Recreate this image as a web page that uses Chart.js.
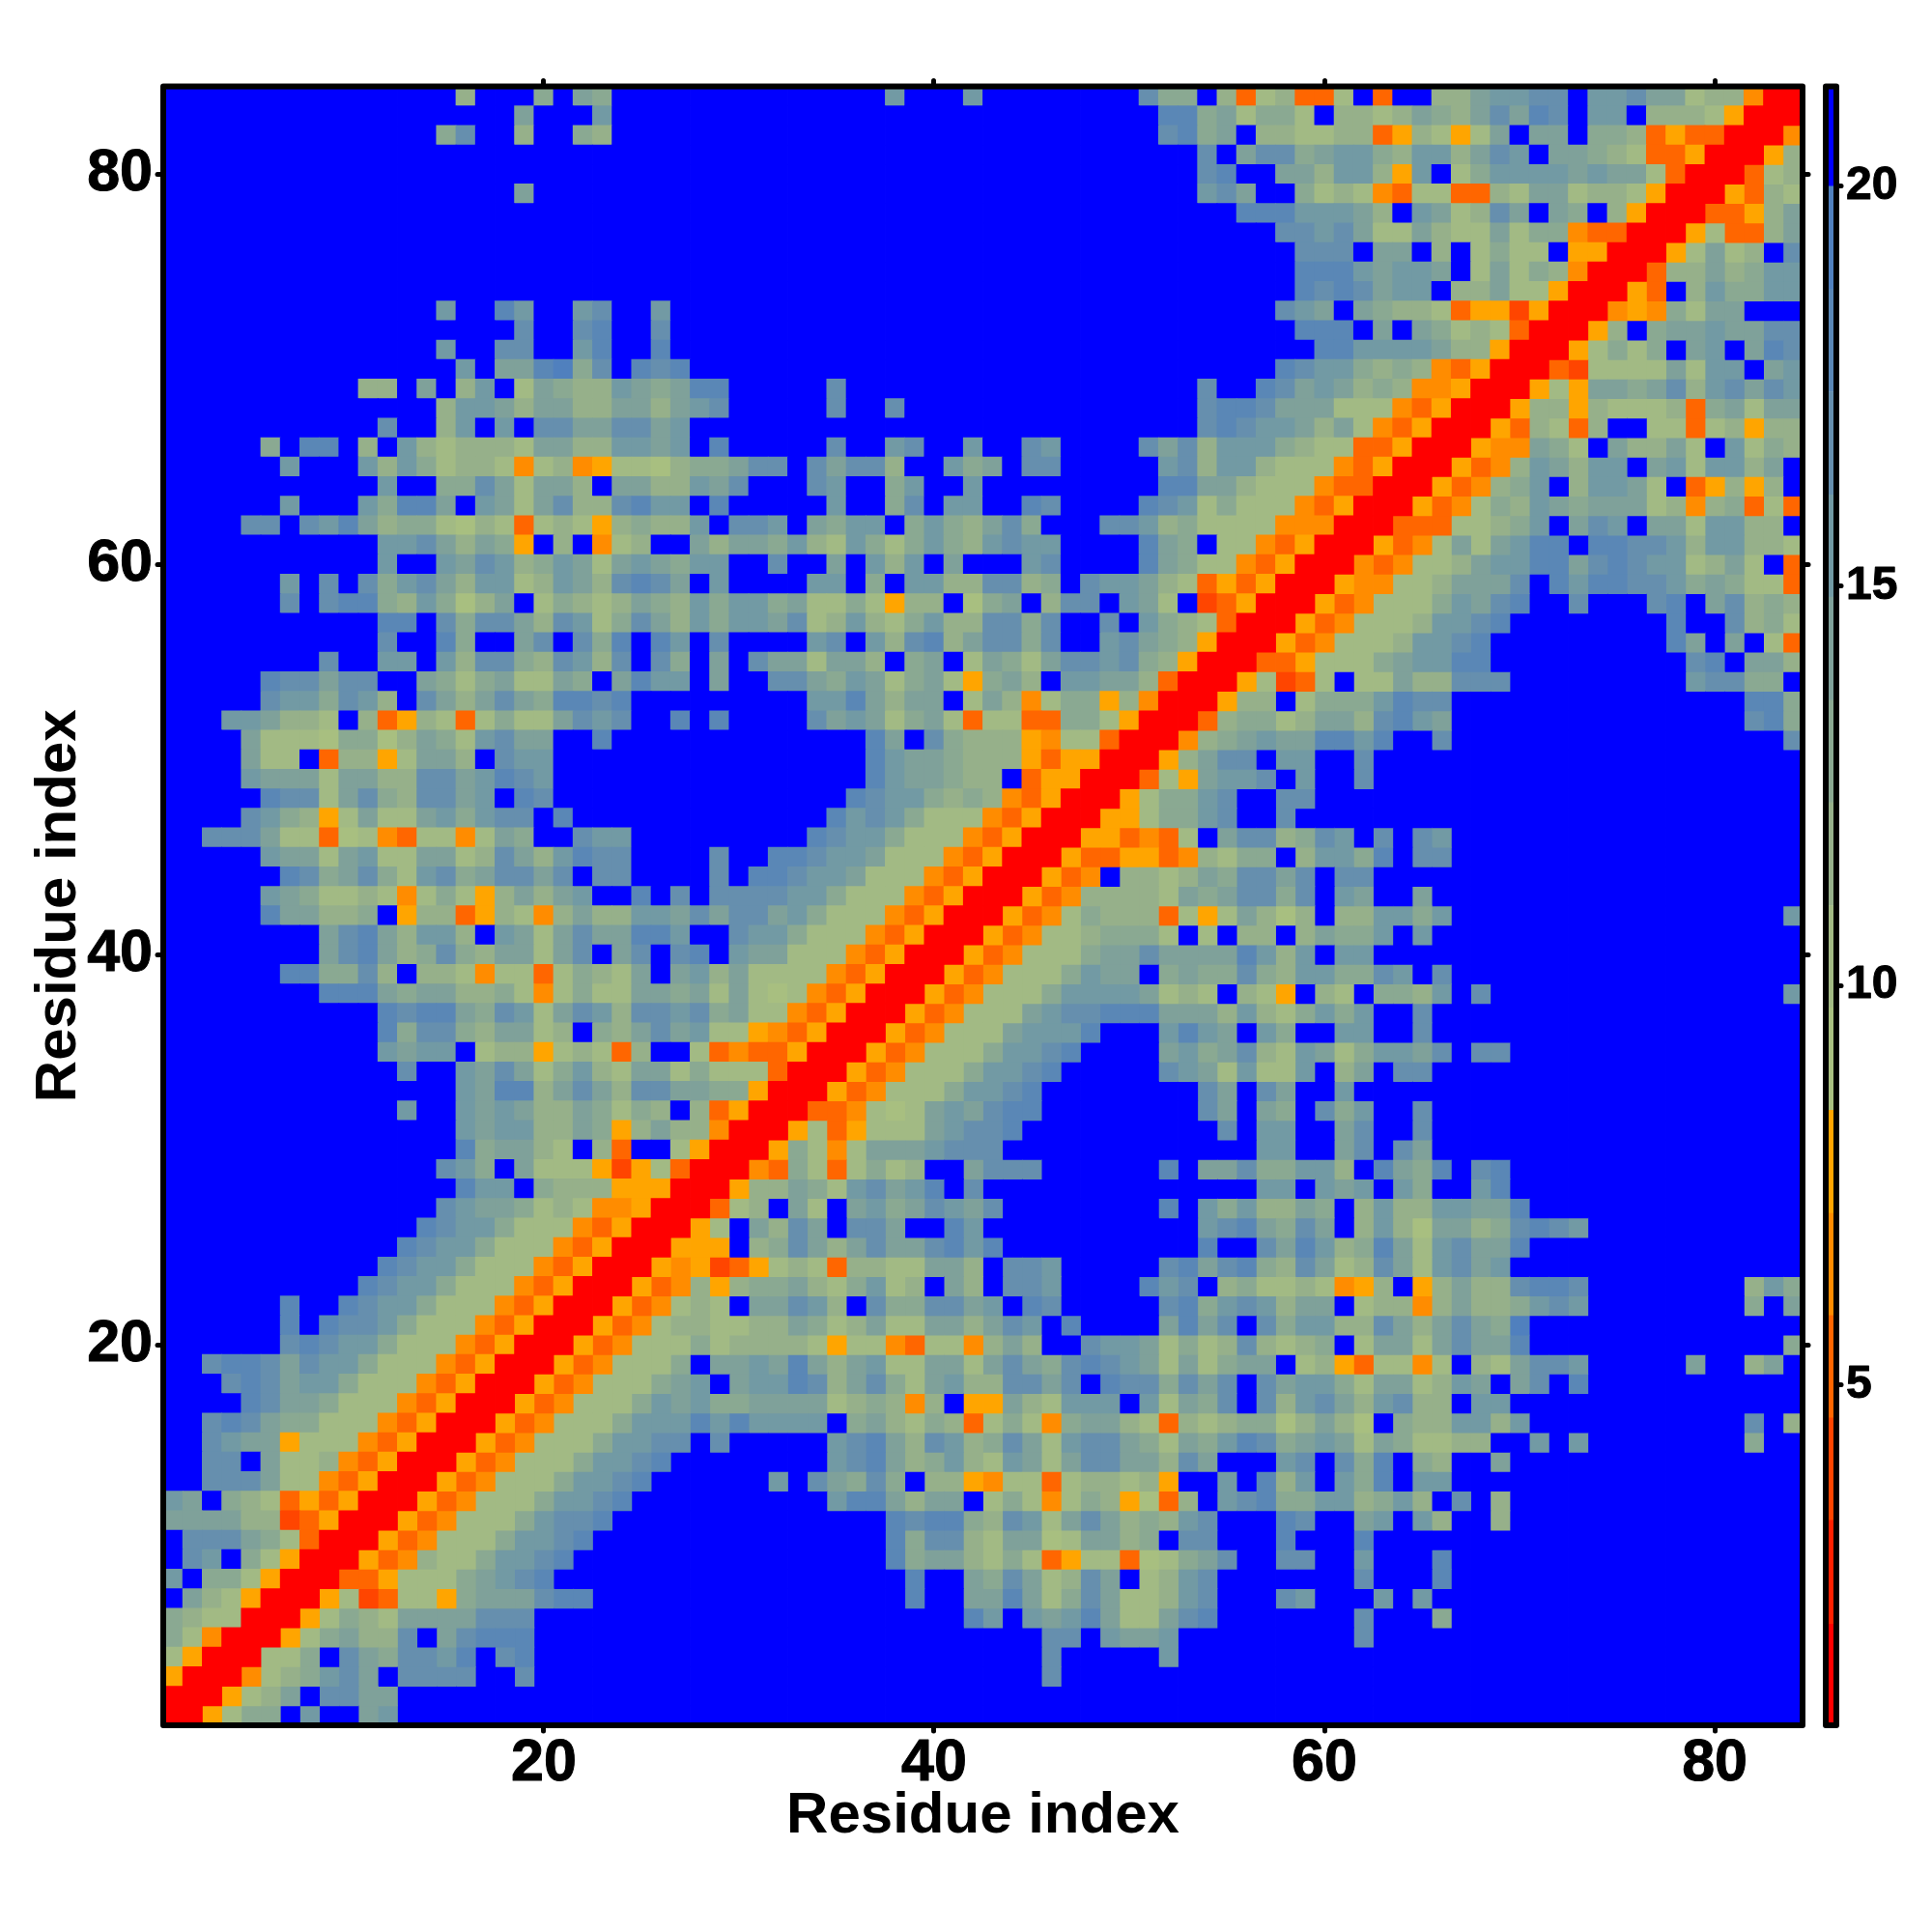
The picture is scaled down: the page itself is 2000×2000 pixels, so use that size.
<!DOCTYPE html>
<html>
<head>
<meta charset="utf-8">
<script src="https://cdn.jsdelivr.net/npm/chart.js@4"></script>
<style>
html,body{margin:0;padding:0;background:#fff;width:2000px;height:2000px;overflow:hidden}
canvas{position:absolute;top:0}
#main{left:0}
#bar{left:1880px}
</style>
</head>
<body>
<canvas id="main" width="2000" height="2000"></canvas>
<canvas id="bar" width="120" height="2000"></canvas>
<script>
const axisTitle = "Residue index";
const residueTicks = [20, 40, 60, 80];
const colorbarTicks = [5, 10, 15, 20];
const levelKeys = "0123456789abcdef";
const palette = ["#FF0000","#FF2000","#FF4500","#FF6600","#FF8C00","#FFA500","#A8BF80","#A2BA84","#96B08A","#8AA992","#7FA19A","#729AA4","#668FAE","#5A87B6","#5080BE","#0000FF"];
const colorbarBreaks = [0.744,2.01,3.31,4.59,5.87,7.15,8.44,9.72,11.0,12.29,13.57,14.86,16.14,17.43,18.71,20.0,21.25];
// Symmetric map: one string per residue y, from y=84 down to y=1, cells x=1..y, one key per palette level.
const rowsY84to57 = [
"ffffffffff fffff8fff9 fa9fffffff fffffffbff fbffffffff c99f837833 7f3ff88abb ccfbbcaa788400",
"ffffffffff ffffffffaf ffbfffffff ffffffffff ffffffffff fdd9a7997f 8878a98aca dcfbbf8887500",
"ffffffffff ffff9cff8f f98fffffff ffffffffff ffffffffff fcd9af8877 88358757af aaf998353300",
"ffffffffff ffffffffff ffffffffff ffffffffff ffffffffff fffcfacc9a bb98bb8acb faa98733500",
"ffffffffff ffffffffff ffffffffff ffffffffff ffffffffff fffcdffaa8 bb85bf79bb bbabaa7300",
"ffffffffff ffffffffaf ffffffffff ffffffffff ffffffffff fffbcaff97 8743773387 aa7887500",
"ffffffffff ffffffffff ffffffffff ffffffffff ffffffffff fffffdddbb ba8fba78ca fa9f8500",
"ffffffffff ffffffffff ffffffffff ffffffffff ffffffffff fffffffccb ca77a877a7 9943300",
"ffffffffff ffffffffff ffffffffff ffffffffff ffffffffff ffffffffcc cfaaf8f797 7f5500",
"ffffffffff ffffffffff ffffffffff ffffffffff ffffffffff ffffffffdd dbabbaf7a7 98400",
"ffffffffff ffffffffff ffffffffff ffffffffff ffffffffff ffffffffdc dcabbf88a7 7500",
"ffffffffff ffffbffdbf fbcffbffff ffffffffff ffffffffff fffffffcba fa98873552 500",
"ffffffffff ffffffffcf fcdffcffff ffffffffff ffffffffff ffffffffdd dfafa97873 00",
"ffffffffff ffffbffccf fbdffdffff ffffffffff ffffffffff fffffffffd dbbbba8850 0",
"ffffffffff fffffbfaad e9cfdcdfff ffffffffff ffffffffff fffffffdcb b989843500",
"ffffffffff 88faf8bf7a 988ba9addf ffffcfffff ffffffffff fffcffdcab a89844500",
"ffffffffff ffff8bba8a a88aa8abcf ffffcffcff ffffffffff fffcddcaaa 77743500",
"ffffffffff fcff8bfbfc caaccabfff ffffffffff ffffffffff fffcdcbba8 a743500",
"fffff9fddf 8fb878887a a88bbabfdf ffffcffbcf fbffcbffff cac8bbb987 733500",
"ffffffbfff b8b9788747 845776899a ccfcacc8ff b9afccffff fbc8bb8777 43500",
"ffffffffff fbff99ca7a a8faa88bac fffcbff9bf fbffffffff fddaa87774 3300",
"ffffffbfff b9ddafba7a c88cdbbfdf ffffbff9cf bbffdcffff dcb7977743 500",
"ffffccfcbd a899768737 8758988bfc cbfa9bbf9b 98ac9fffcc b897777444 00",
"ffffffffff fbbca8a95f 8f478ffa8a a9b87b979b 98bcbbffff da9f774350 0",
"ffffffffff fbffbacb89 ba7aba9bbf fcffafb8bf afffbcffff da97743500",
"ffffffbfcf c9bca8bb78 ba8cdcafbf fffbbf9fbb 88cc89fcbb a87353500",
"ffffffcfcd d98b968af7 9878a98b9b b9a7797588 f69af8ccfb a7f23500",
"ffffffffff fddfc9cca8 cb79ca8b9b bac78b879b 88cc9cffcf b987300"
];
const rowsY56to29 = [
"ffffffffff fcffd9ffac fc9dfdbfcf fffbcfb8cd 8acc9cffbc a98500",
"ffffffffcf fbbfb8cc98 cb8cfc9faf caa7aa8f9a f7a97accbc 98500",
"fffffdccac cffa979a77 a9fadbbfaf fcca9ba79a 759a8fbbaa 8300",
"fffffcbb9c b8fca8aca9 ddcdffffff fffbbda8aa f7a8479958 400",
"fffbba887f 8358737977 acbcffdfdf fffcaba79a 7377339975 00",
"ffffa77769 968a97bcaa ffdfffffff ffffffdafc 9888547730 0",
"ffffa77f38 857aa8fcbb ffffffffff ffffffdbaa 9888535500",
"ffffbaaa7a a88ccabdcb ffffffffff ffffffdbaa 988f35500",
"fffffdcc7a c98ccabfdc ffffffffff fffffdcbb9 89843500",
"ffffcb9857 a77ab9bccf dfffffffff ffffdbcb97 7743500",
"ffccca7736 7437747a9f fcbbffffff fffdcbb977 743500",
"fffffbaa7a b77aa78ca8 bdccffffcf fddcbba777 43500",
"ffffffdc9a c97bc9acca cfccffffcf ddcbba7774 3500",
"fffffba977 87479758a8 abffdfcfcc ccbb977743 500",
"fffffdaa88 9f58835874 8a88bbacac cab9777435 00",
"ffffffffac da8bb8fba7 acaaddbffc bb97774350 0",
"ffffffffac da89c98aa7 acfacfcdfb aa77743500",
"ffffffdd99 c8f8874773 7987afab8a 777743500",
"ffffffffdd da9aa88974 7977aa9a7a 76743500",
"ffffffffff fdcdda9cb7 acb8ccbc9a 7743500",
"ffffffffff fd9cc98aa7 8f98acab77 543500",
"ffffffffff fbabbf7885 78738ff734 33500",
"ffffffffff ffcffbaca7 9b87aa7977 7300",
"ffffffffff fffffbadd8 aca8ccaa99 500",
"ffffffffff ffbffbaba8 8a9798f835 00",
"ffffffffff fffffbabb8 8a958a8840 0",
"ffffffffff fffffd9aa8 7f83ff7500",
"ffffffffff ffffcb9fa7 775257300"
];
const rowsY28to1 = [
"ffffffffff fffffdbbf9 88855500",
"ffffffffff ffffcbaa97 8744500",
"ffffffffff fffdcbb977 743500",
"ffffffffff ffdcbb9777 43500",
"ffffffffff fdcbb97774 3500",
"ffffffffff dcbb977743 500",
"ffffffdffd cbb9777435 00",
"ffffffdfdc cb97774350 0",
"ffffffcdcb b977743500",
"ffcddcacbb 977743500",
"fffcdcabb9 77743500",
"ffffdcaa97 7743500",
"ffcdca9977 743500",
"ffcbaa5777 43500",
"ffccfa7784 3500",
"ffccca7743 500",
"baf9873535 00",
"aaaa882350 0",
"fccca97300",
"fcbf97500",
"bf997500",
"fa87500",
"987700",
"97400",
"7500",
"500",
"00",
"0"
];

const allRows = rowsY84to57.concat(rowsY56to29, rowsY28to1).map(r => r.replace(/ /g, ""));
const cells = [];
allRows.forEach((row, i) => {
  const y = 84 - i;
  for (let k = 0; k < row.length; k++) {
    const x = k + 1, level = levelKeys.indexOf(row[k]);
    cells.push({x, y, level});
    if (x !== y) cells.push({x: y, y: x, level});
  }
});

const FONT = "'Liberation Sans', Arial, sans-serif";
const roundLines = {id: "roundLines", beforeDraw(c){ c.ctx.lineCap = "round"; c.ctx.lineJoin = "round"; }};
const frame = {id: "frame", afterDraw(c){
  const a = c.chartArea, x = c.ctx;
  x.save(); x.lineWidth = 6; x.strokeStyle = "#000"; x.lineJoin = "round";
  x.strokeRect(a.left, a.top, a.right - a.left, a.bottom - a.top); x.restore();
}};
const setTicks = list => s => { s.ticks = list.map(v => ({value: v})); };
const tickGrid = {drawOnChartArea: false, drawTicks: true, tickLength: 6, tickWidth: 5, tickColor: "#000"};
function residueAxis(position, size, labelled) {
  const horizontal = position === "top" || position === "bottom";
  return {
    type: "linear", position, min: 0.5, max: 84.5,
    afterBuildTicks: setTicks(residueTicks),
    afterFit: s => { if (horizontal) s.height = size; else s.width = size; },
    grid: tickGrid, border: {display: false},
    ticks: {display: labelled, autoSkip: false, maxRotation: 0, minRotation: 0,
      padding: horizontal ? -2 : 5, color: "#000", textStrokeColor: "#000", textStrokeWidth: 1,
      font: {family: FONT, size: 61, weight: "bold"}},
    title: {display: labelled, text: axisTitle, color: "#000",
      font: {family: FONT, size: 60, weight: "bold"},
      padding: position === "bottom" ? {top: 0, bottom: 84} : {top: 25, bottom: 0}}
  };
}

new Chart(document.getElementById("main"), {
  type: "scatter",
  data: {datasets: [{
    data: cells, showLine: false, pointStyle: "rect", pointBorderWidth: 0, pointHoverRadius: 0,
    pointRadius: c => { const s = c.chart.scales.x; return (s.getPixelForValue(1) - s.getPixelForValue(0) + 0.8) / Math.SQRT2; },
    pointBackgroundColor: c => palette[c.raw.level]
  }]},
  options: {
    responsive: false, animation: false, devicePixelRatio: 1, events: [],
    layout: {padding: 0},
    plugins: {legend: {display: false}, tooltip: {enabled: false}},
    scales: {
      x: residueAxis("bottom", 214, true),
      xTop: residueAxis("top", 89.5, false),
      y: residueAxis("left", 169, true),
      yRight: residueAxis("right", 134, false)
    }
  },
  plugins: [roundLines, frame]
});

new Chart(document.getElementById("bar"), {
  type: "bar",
  data: {
    labels: ["level"],
    datasets: palette.map((col, i) => ({
      data: [[colorbarBreaks[i], colorbarBreaks[i + 1]]],
      backgroundColor: col, borderWidth: 0, barPercentage: 1, categoryPercentage: 1, grouped: false
    }))
  },
  options: {
    responsive: false, animation: false, devicePixelRatio: 1, events: [],
    layout: {padding: {left: 10, top: 89.5, bottom: 214, right: 0}},
    plugins: {legend: {display: false}, tooltip: {enabled: false}},
    scales: {
      x: {display: false},
      y: {
        position: "right", min: 0.744, max: 21.25,
        afterBuildTicks: setTicks(colorbarTicks),
        afterFit: s => { s.width = 99; },
        grid: {drawOnChartArea: false, drawTicks: true, tickLength: 5, tickWidth: 5, tickColor: "#000"},
        border: {display: false},
        ticks: {padding: 5, color: "#000", textStrokeColor: "#000", textStrokeWidth: 1, font: {family: FONT, size: 48, weight: "bold"}}
      }
    }
  },
  plugins: [roundLines, frame]
});
</script>
</body>
</html>
